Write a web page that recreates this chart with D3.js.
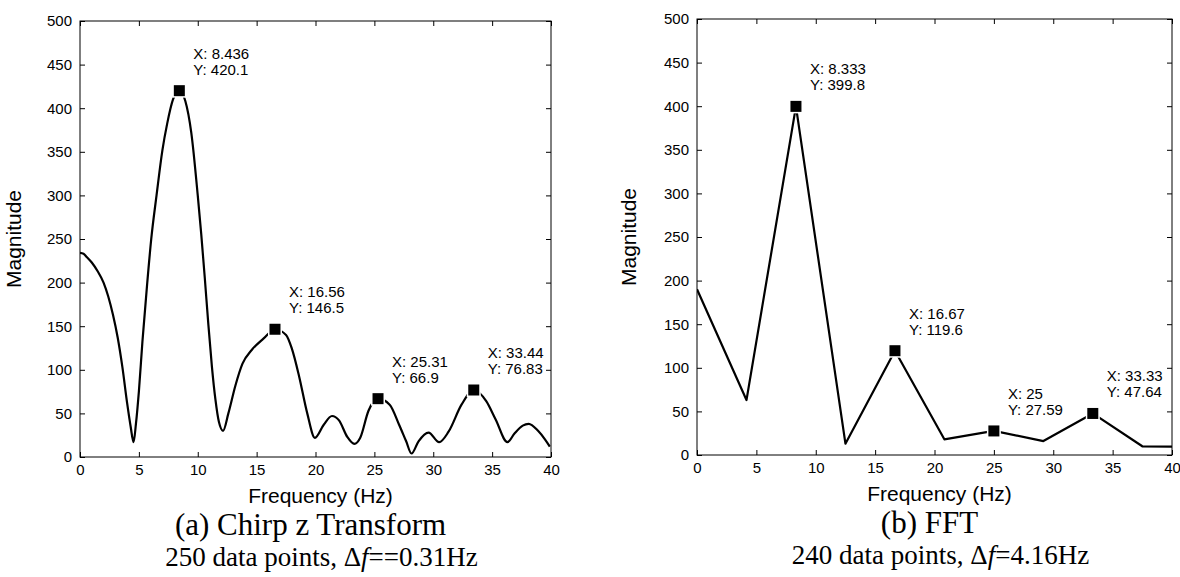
<!DOCTYPE html>
<html>
<head>
<meta charset="utf-8">
<script src="https://cdn.jsdelivr.net/npm/d3@7"></script>
<style>
    body { margin: 0; background: #fff; }
    .tick text { font-family: "Liberation Sans", Arial, sans-serif; font-size: 15px; fill: #000; }
    .tick line { stroke: #000; }
</style>
</head>
<body>
<svg id="chart" width="1180" height="577"></svg>
<script>
// (a) Chirp z Transform - magnitude
const czFreq = [0, 0.3, 0.6, 1.0, 1.5, 2.0, 2.4, 2.8, 3.2, 3.6, 4.0, 4.3, 4.55, 4.75, 5.0, 5.3, 5.7, 6.05, 6.5,
    7.0, 7.4, 7.9, 8.436, 8.95, 9.45, 10.0, 10.3, 10.6, 10.9, 11.2, 11.5, 11.8, 12.15, 12.6, 13.2, 13.8, 14.6,
    15.6, 16.56, 17.5, 18.0, 18.6, 19.3, 19.95, 20.7, 21.4, 22.0, 22.7, 23.3, 23.8, 24.5, 25.31, 26.3, 27.1,
    27.7, 28.15, 28.75, 29.6, 30.5, 31.3, 32.4, 33.44, 34.5, 35.3, 36.3, 36.9, 37.6, 38.1, 38.9, 39.5, 39.9];
const czMag = [234, 233, 229, 223, 213, 200, 184, 163, 137, 103, 62, 35, 17, 38, 75, 132, 198, 250, 300,
    352, 382, 410, 420.1, 408, 372, 300, 255, 205, 152, 104, 66, 40, 30, 50, 82, 107, 123,
    136, 146.5, 140, 124, 93, 50, 22, 37, 47, 42, 23, 15, 22, 53, 66.9, 60, 37,
    18, 4, 18, 28, 17, 29, 60, 76.83, 64, 43, 17, 27, 36, 38, 30, 20, 12];
const czTipX = [8.436, 16.56, 25.31, 33.44];
const czTipY = [420.1, 146.5, 66.9, 76.83];

// (b) FFT - one point every 4.1667 Hz
const fftFreq = [0, 4.167, 8.333, 12.5, 16.67, 20.83, 25, 29.17, 33.33, 37.5, 41.67];
const fftMag = [190, 63, 399.8, 13, 119.6, 18, 27.59, 16, 47.64, 10, 9.5];
const fftTipX = [8.333, 16.67, 25, 33.33];
const fftTipY = [399.8, 119.6, 27.59, 47.64];

const xTicks = [0, 5, 10, 15, 20, 25, 30, 35, 40];
const yTicks = [0, 50, 100, 150, 200, 250, 300, 350, 400, 450, 500];

const sans = '"Liberation Sans", Arial, sans-serif';
const serif = '"Liberation Serif", "Times New Roman", serif';

const svg = d3.select('#chart');

function drawPanel(p) {
    const x = d3.scaleLinear().domain([0, 40]).range([p.left, p.right]);
    const y = d3.scaleLinear().domain([0, 500]).range([p.bottom, p.top]);
    const g = svg.append('g');

    // inward ticks on all four sides (matlab box)
    g.append('g').attr('transform', `translate(0,${p.bottom})`)
        .call(d3.axisBottom(x).tickValues(xTicks).tickSizeInner(-5).tickSizeOuter(0).tickPadding(7));
    g.append('g').attr('transform', `translate(0,${p.top})`)
        .call(d3.axisTop(x).tickValues(xTicks).tickSizeInner(-5).tickSizeOuter(0).tickFormat(''));
    g.append('g').attr('transform', `translate(${p.left},0)`)
        .call(d3.axisLeft(y).tickValues(yTicks).tickSizeInner(-5).tickSizeOuter(0).tickPadding(8));
    g.append('g').attr('transform', `translate(${p.right},0)`)
        .call(d3.axisRight(y).tickValues(yTicks).tickSizeInner(-5).tickSizeOuter(0).tickFormat(''));
    g.selectAll('.domain').remove();

    g.append('rect')
        .attr('x', p.left).attr('y', p.top)
        .attr('width', p.right - p.left).attr('height', p.bottom - p.top)
        .attr('fill', 'none').attr('stroke', '#000').attr('stroke-width', 1);

    const clipId = 'clip-' + p.id;
    g.append('clipPath').attr('id', clipId).append('rect')
        .attr('x', p.left).attr('y', p.top)
        .attr('width', p.right - p.left).attr('height', p.bottom - p.top);

    const pts = p.freq.map((f, i) => [f, p.mag[i]]);
    const line = d3.line()
        .x((d) => x(d[0]))
        .y((d) => y(d[1]))
        .curve(p.curve);
    g.append('path')
        .datum(pts)
        .attr('clip-path', `url(#${clipId})`)
        .attr('d', line)
        .attr('fill', 'none')
        .attr('stroke', '#000')
        .attr('stroke-width', 2.2)
        .attr('stroke-linejoin', 'round');

    // data tips
    p.tipX.forEach((tx, i) => {
        const cx = x(tx), cy = y(p.tipY[i]);
        g.append('rect')
            .attr('x', cx - 5.5).attr('y', cy - 5.5)
            .attr('width', 11).attr('height', 11)
            .attr('fill', '#000').attr('stroke', '#fff').attr('stroke-width', 3)
            .attr('paint-order', 'stroke');
        const t = g.append('text')
            .attr('font-family', sans).attr('font-size', 15);
        t.append('tspan').attr('x', cx + 14).attr('y', cy - 32).text(`X: ${tx}`);
        t.append('tspan').attr('x', cx + 14).attr('y', cy - 16).text(`Y: ${p.tipY[i]}`);
    });

    const mid = (p.left + p.right) / 2;

    g.append('text')
        .attr('transform', `translate(${p.ylabelX},${(p.top + p.bottom) / 2}) rotate(-90)`)
        .attr('text-anchor', 'middle').attr('dy', '0.35em')
        .attr('font-family', sans).attr('font-size', 21)
        .text('Magnitude');

    g.append('text')
        .attr('x', mid + 5).attr('y', p.bottom + 46)
        .attr('text-anchor', 'middle')
        .attr('font-family', sans).attr('font-size', 21)
        .text('Frequency (Hz)');

    g.append('text')
        .attr('x', mid - 5).attr('y', p.bottom + 78)
        .attr('text-anchor', 'middle')
        .attr('font-family', serif).attr('font-size', 31)
        .text(p.title);

    const sub = g.append('text')
        .attr('x', mid + 6).attr('y', p.bottom + 109)
        .attr('text-anchor', 'middle')
        .attr('font-family', serif).attr('font-size', 27);
    sub.append('tspan').text(`${p.points} data points, \u0394`);
    sub.append('tspan').attr('font-style', 'italic').text('f');
    sub.append('tspan').text(p.delta);
}

drawPanel({
    id: 'a', left: 80, right: 551, top: 21, bottom: 457, ylabelX: 14,
    freq: czFreq, mag: czMag, tipX: czTipX, tipY: czTipY,
    curve: d3.curveMonotoneX,
    title: '(a) Chirp z Transform', points: 250, delta: '==0.31Hz'
});

drawPanel({
    id: 'b', left: 697, right: 1172, top: 19, bottom: 455, ylabelX: 629,
    freq: fftFreq, mag: fftMag, tipX: fftTipX, tipY: fftTipY,
    curve: d3.curveLinear,
    title: '(b) FFT', points: 240, delta: '=4.16Hz'
});
</script>
</body>
</html>
